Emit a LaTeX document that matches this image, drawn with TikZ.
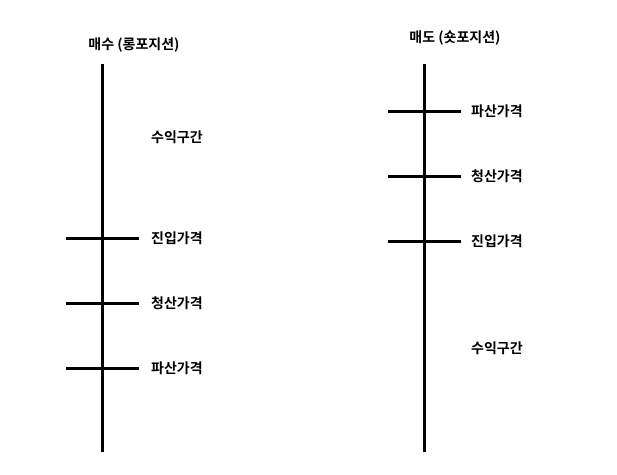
\documentclass[tikz,border=0pt]{standalone}
\usepackage{fontspec}
\newfontfamily\krfont{Noto Sans CJK KR}[BoldFont={* Bold}]
\begin{document}
\begin{tikzpicture}[x=1pt,y=-1pt,
  axisline/.style={line width=3pt},
  tickline/.style={line width=3pt},
  lbl/.style={font=\krfont\bfseries\fontsize{14}{16}\selectfont, anchor=west, inner sep=0pt},
  ttl/.style={font=\krfont\bfseries\fontsize{14}{16}\selectfont, anchor=center, inner sep=0pt}]
\useasboundingbox (0,0) rectangle (617,474);
% left axis
\coordinate (lt) at (102,64);
\coordinate (lb) at (102,452);
\draw[axisline] (lt) -- (lb);
\node[ttl] (ltitle) at (134,45) {매수 (롱포지션)};
\node[lbl] (lprofit) at (151,137) {수익구간};
\coordinate (l1a) at (66,238); \coordinate (l1b) at (139,238);
\coordinate (l2a) at (66,303); \coordinate (l2b) at (139,303);
\coordinate (l3a) at (66,368); \coordinate (l3b) at (139,368);
\draw[tickline] (l1a) -- (l1b);
\draw[tickline] (l2a) -- (l2b);
\draw[tickline] (l3a) -- (l3b);
\node[lbl] (lentry) at (151,238) {진입가격};
\node[lbl] (lclose) at (151,303) {청산가격};
\node[lbl] (lliq) at (151,368) {파산가격};
% right axis
\coordinate (rt) at (424,64);
\coordinate (rb) at (424,452);
\draw[axisline] (rt) -- (rb);
\node[ttl] (rtitle) at (455,38) {매도 (숏포지션)};
\coordinate (r1a) at (388,111); \coordinate (r1b) at (461,111);
\coordinate (r2a) at (388,176); \coordinate (r2b) at (461,176);
\coordinate (r3a) at (388,241); \coordinate (r3b) at (461,241);
\draw[tickline] (r1a) -- (r1b);
\draw[tickline] (r2a) -- (r2b);
\draw[tickline] (r3a) -- (r3b);
\node[lbl] (rliq) at (471,111) {파산가격};
\node[lbl] (rclose) at (471,176) {청산가격};
\node[lbl] (rentry) at (471,241) {진입가격};
\node[lbl] (rprofit) at (471,348) {수익구간};
\end{tikzpicture}
\end{document}
